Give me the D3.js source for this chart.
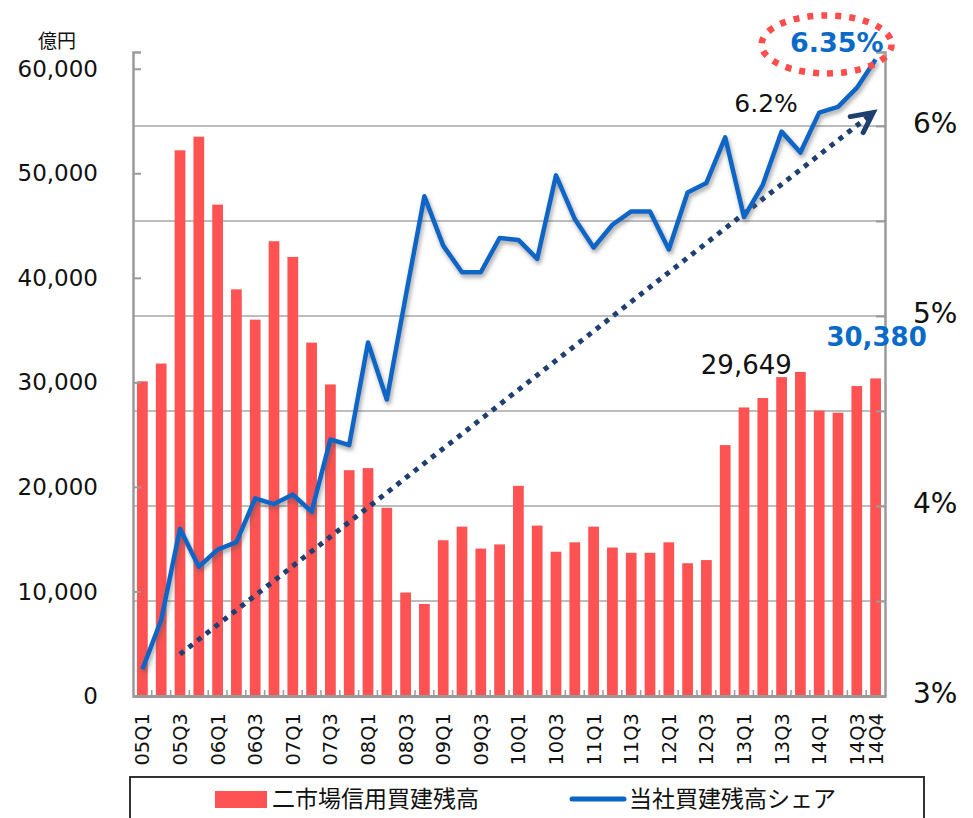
<!DOCTYPE html>
<html>
<head>
<meta charset="utf-8">
<script src="https://cdn.jsdelivr.net/npm/d3@7"></script>
<style>
  body { margin: 0; background: #fff; }
  svg { display: block; }
</style>
</head>
<body>
<div id="chart"></div>
<script>
// quarters 2005Q1 .. 2014Q4
const quarters = [
  "05Q1","05Q2","05Q3","05Q4","06Q1","06Q2","06Q3","06Q4",
  "07Q1","07Q2","07Q3","07Q4","08Q1","08Q2","08Q3","08Q4",
  "09Q1","09Q2","09Q3","09Q4","10Q1","10Q2","10Q3","10Q4",
  "11Q1","11Q2","11Q3","11Q4","12Q1","12Q2","12Q3","12Q4",
  "13Q1","13Q2","13Q3","13Q4","14Q1","14Q2","14Q3","14Q4"
];
const shownLabels = [
  "05Q1","05Q3","06Q1","06Q3","07Q1","07Q3","08Q1","08Q3","09Q1","09Q3",
  "10Q1","10Q3","11Q1","11Q3","12Q1","12Q3","13Q1","13Q3","14Q1","14Q3","14Q4"
];

// 二市場信用買建残高 (億円)
const marketBalance = [
  30100, 31800, 52200, 53500, 47000, 38900, 36000, 43500,
  42000, 33800, 29800, 21600, 21800, 18000, 9900, 8800,
  14900, 16200, 14100, 14500, 20100, 16300, 13800, 14700,
  16200, 14200, 13700, 13700, 14700, 12700, 13000, 24000,
  27600, 28500, 30500, 31000, 27300, 27100, 29649, 30380
];
// 当社買建残高シェア (%)
const shareValues = [
  3.14, 3.40, 3.88, 3.68, 3.77, 3.81, 4.04, 4.01,
  4.06, 3.97, 4.35, 4.32, 4.86, 4.56, 5.10, 5.63,
  5.37, 5.23, 5.23, 5.41, 5.40, 5.30, 5.74, 5.51,
  5.36, 5.48, 5.55, 5.55, 5.35, 5.65, 5.70, 5.94,
  5.52, 5.69, 5.97, 5.86, 6.07, 6.10, 6.20, 6.35
];

const leftTicks = [0, 10000, 20000, 30000, 40000, 50000, 60000];
const rightTicks = [3, 4, 5, 6];
const gridTicks = [3.5, 4, 4.5, 5, 5.5, 6];

const width = 973, height = 818;
const plot = { left: 133, right: 885, top: 52, bottom: 696 };

const svg = d3.select("#chart").append("svg")
  .attr("width", width)
  .attr("height", height)
  .style("font-family", "'DejaVu Sans', Verdana, sans-serif");

const x = d3.scaleBand()
  .domain(quarters)
  .range([plot.left, plot.right])
  .paddingInner(0.43)
  .paddingOuter(0.215);

const xStep = d3.scaleBand().domain(quarters).range([plot.left, plot.right]);

const yL = d3.scaleLinear().domain([0, 61600]).range([plot.bottom, plot.top]);
const yR = d3.scaleLinear().domain([3, 6.389]).range([plot.bottom, plot.top]);

const cx = q => xStep(q) + xStep.bandwidth() / 2;

const defs = svg.append("defs");
const shadow = defs.append("filter").attr("id", "shadow")
  .attr("x", "-10%").attr("y", "-10%").attr("width", "120%").attr("height", "130%");
shadow.append("feDropShadow")
  .attr("dx", 1.5).attr("dy", 3).attr("stdDeviation", 2.2)
  .attr("flood-color", "#555").attr("flood-opacity", 0.55);

// gridlines on the right-axis levels
svg.append("g")
  .selectAll("line")
  .data(gridTicks)
  .join("line")
  .attr("x1", plot.left).attr("x2", plot.right)
  .attr("y1", d => yR(d)).attr("y2", d => yR(d))
  .attr("stroke", "#bdbdbd")
  .attr("stroke-width", 2);

// bars
svg.append("g")
  .selectAll("rect")
  .data(quarters)
  .join("rect")
  .attr("x", d => x(d))
  .attr("width", x.bandwidth())
  .attr("y", (d, i) => yL(marketBalance[i]))
  .attr("height", (d, i) => plot.bottom - yL(marketBalance[i]))
  .attr("fill", "#ff5252");

// left axis
const leftAxis = svg.append("g")
  .attr("transform", `translate(${plot.left},0)`)
  .call(d3.axisRight(yL).tickValues(leftTicks).tickSize(8).tickFormat(""));
leftAxis.select(".domain").attr("stroke", "#9a9a9a").attr("stroke-width", 2.5);
leftAxis.selectAll(".tick line").attr("stroke", "#9a9a9a").attr("stroke-width", 2);

svg.append("g")
  .selectAll("text")
  .data(leftTicks)
  .join("text")
  .attr("x", 98)
  .attr("y", d => yL(d))
  .attr("dy", "0.35em")
  .attr("text-anchor", "end")
  .attr("font-size", 23)
  .attr("fill", "#111")
  .text(d => d3.format(",")(d));

svg.append("text")
  .attr("x", 57).attr("y", 41)
  .attr("dy", "0.35em")
  .attr("text-anchor", "middle")
  .attr("font-size", 19)
  .style("font-family", "'Noto Sans CJK JP', sans-serif")
  .attr("fill", "#111")
  .text("億円");

// right axis
const rightAxis = svg.append("g")
  .attr("transform", `translate(${plot.right},0)`)
  .call(d3.axisLeft(yR).tickValues(gridTicks.concat([3])).tickSize(9).tickFormat(""));
rightAxis.select(".domain").attr("stroke", "#9a9a9a").attr("stroke-width", 2.5);
rightAxis.selectAll(".tick line").attr("stroke", "#9a9a9a").attr("stroke-width", 2);

svg.append("g")
  .selectAll("text")
  .data(rightTicks)
  .join("text")
  .attr("x", 913)
  .attr("y", d => yR(d) - 3)
  .attr("dy", "0.35em")
  .attr("font-size", 28)
  .attr("fill", "#111")
  .text(d => d + "%");

// bottom axis with small inner ticks between bars
const bottomAxis = svg.append("g")
  .attr("transform", `translate(0,${plot.bottom})`)
  .call(d3.axisTop(xStep).tickSize(0).tickFormat(""));
bottomAxis.select(".domain").attr("stroke", "#9a9a9a").attr("stroke-width", 3);
svg.append("g")
  .selectAll("line")
  .data(quarters.slice(1))
  .join("line")
  .attr("x1", d => xStep(d)).attr("x2", d => xStep(d))
  .attr("y1", plot.bottom).attr("y2", plot.bottom - 6)
  .attr("stroke", "#9a9a9a")
  .attr("stroke-width", 1.5);

// x labels (rotated)
svg.append("g")
  .selectAll("text")
  .data(shownLabels)
  .join("text")
  .attr("transform", d => `translate(${cx(d)},713) rotate(-90)`)
  .attr("dy", "0.36em")
  .attr("text-anchor", "end")
  .attr("font-size", 19.5)
  .attr("fill", "#111")
  .text(d => d);

// trend arrow (dotted)
const arrowStart = [cx("05Q3"), yR(3.22)];
const arrowEnd = [xStep("14Q4") + 7, yR(6.07)];
svg.append("line")
  .attr("x1", arrowStart[0]).attr("y1", arrowStart[1])
  .attr("x2", arrowEnd[0] - 3).attr("y2", arrowEnd[1] + 2.5)
  .attr("stroke", "#1f3f70")
  .attr("stroke-width", 5)
  .attr("stroke-dasharray", "5,6");
svg.append("path")
  .attr("d", d3.line()([
    [arrowEnd[0] - 23, arrowEnd[1] + 4],
    arrowEnd,
    [arrowEnd[0] - 10, arrowEnd[1] + 20]
  ]))
  .attr("fill", "none")
  .attr("stroke", "#1f3f70")
  .attr("stroke-width", 5)
  .attr("stroke-linejoin", "miter")
  .attr("stroke-linecap", "round");

// share line
const line = d3.line()
  .x((d, i) => cx(quarters[i]))
  .y(d => yR(d));
svg.append("path")
  .datum(shareValues)
  .attr("d", line)
  .attr("fill", "none")
  .attr("stroke", "#0866c6")
  .attr("stroke-width", 4.5)
  .attr("stroke-linejoin", "round")
  .attr("filter", "url(#shadow)");

// annotations
const lastQ = quarters[quarters.length - 1];
const prevQ = quarters[quarters.length - 2];
const lastShare = shareValues[shareValues.length - 1];
const prevShare = shareValues[shareValues.length - 2];
const lastBal = marketBalance[marketBalance.length - 1];
const prevBal = marketBalance[marketBalance.length - 2];

svg.append("ellipse")
  .attr("cx", cx(lastQ) - 49)
  .attr("cy", yR(lastShare) - 15)
  .attr("rx", 65)
  .attr("ry", 29)
  .attr("fill", "none")
  .attr("stroke", "#ff4d4d")
  .attr("stroke-width", 6.5)
  .attr("stroke-dasharray", "6,8");

svg.append("text")
  .attr("x", cx(lastQ) + 8)
  .attr("y", yR(lastShare) - 7)
  .attr("text-anchor", "end")
  .attr("font-size", 27)
  .attr("font-weight", "bold")
  .attr("fill", "#0a6ac8")
  .text(d3.format(".2f")(lastShare) + "%");

svg.append("text")
  .attr("x", cx(prevQ) - 59)
  .attr("y", yR(prevShare) + 24)
  .attr("text-anchor", "end")
  .attr("font-size", 25)
  .attr("fill", "#111")
  .text(d3.format(".1f")(prevShare) + "%");

svg.append("text")
  .attr("x", cx(lastQ) + 1)
  .attr("y", yL(lastBal) - 32)
  .attr("text-anchor", "middle")
  .attr("font-size", 26)
  .attr("font-weight", "bold")
  .attr("fill", "#0a6ac8")
  .text(d3.format(",")(lastBal));

svg.append("text")
  .attr("x", cx(prevQ) - 65)
  .attr("y", yL(prevBal) - 12)
  .attr("text-anchor", "end")
  .attr("font-size", 26)
  .attr("fill", "#111")
  .text(d3.format(",")(prevBal));

// legend
const legend = svg.append("g")
  .style("font-family", "'Noto Sans CJK JP', sans-serif");
legend.append("rect")
  .attr("x", 130).attr("y", 777)
  .attr("width", 794).attr("height", 60)
  .attr("fill", "#fff")
  .attr("stroke", "#333")
  .attr("stroke-width", 2);
legend.append("rect")
  .attr("x", 215).attr("y", 791)
  .attr("width", 52).attr("height", 17)
  .attr("fill", "#ff5252");
legend.append("text")
  .attr("x", 272).attr("y", 799)
  .attr("dy", "0.35em")
  .attr("font-size", 23)
  .attr("fill", "#111")
  .text("二市場信用買建残高");
legend.append("line")
  .attr("x1", 572).attr("x2", 624)
  .attr("y1", 799).attr("y2", 799)
  .attr("stroke", "#0866c6")
  .attr("stroke-width", 5)
  .attr("stroke-linecap", "round");
legend.append("text")
  .attr("x", 629).attr("y", 799)
  .attr("dy", "0.35em")
  .attr("font-size", 23)
  .attr("fill", "#111")
  .text("当社買建残高シェア");
</script>
</body>
</html>
